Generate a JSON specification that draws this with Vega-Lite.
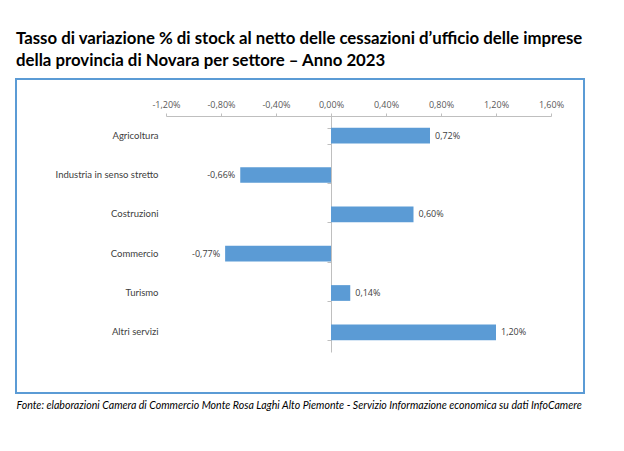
{
  "$schema": "https://vega.github.io/schema/vega-lite/v6.json",
  "width": 568,
  "height": 314,
  "autosize": {"type": "none"},
  "padding": {"left": 16, "top": 79, "right": 40, "bottom": 58},
  "background": "white",
  "title": {
    "text": ["Tasso di variazione % di stock al netto delle cessazioni d’ufficio delle imprese", "della provincia di Novara per settore – Anno 2023"],
    "anchor": "start",
    "frame": "group",
    "font": "Lato",
    "fontSize": 16.8,
    "fontWeight": "bold",
    "color": "#000000",
    "lineHeight": 22,
    "offset": 9
  },
  "data": {
    "values": [
      {"settore": "Agricoltura", "valore": 0.0072},
      {"settore": "Industria in senso stretto", "valore": -0.0066},
      {"settore": "Costruzioni", "valore": 0.006},
      {"settore": "Commercio", "valore": -0.0077},
      {"settore": "Turismo", "valore": 0.0014},
      {"settore": "Altri servizi", "valore": 0.012}
    ]
  },
  "layer": [
    {
      "mark": {"type": "bar", "color": "#5B9BD5"},
      "encoding": {
        "y": {
          "field": "settore", "type": "nominal", "sort": null,
          "scale": {"domain": ["Agricoltura", "Industria in senso stretto", "Costruzioni", "Commercio", "Turismo", "Altri servizi"], "range": [37, 273], "paddingInner": 0.6, "paddingOuter": 0.3},
          "axis": {"orient": "left", "offset": -144, "domain": false, "ticks": false, "labelPadding": 2, "title": null, "labelColor": "#404040", "labelFont": "Lato", "labelFontSize": 9.5}
        },
        "x": {
          "field": "valore", "type": "quantitative",
          "scale": {"domain": [-0.012, 0.016], "range": [150, 535], "nice": false, "zero": false},
          "axis": {"orient": "top", "offset": -37, "values": [-0.012, -0.008, -0.004, 0, 0.004, 0.008, 0.012, 0.016], "format": ".2%", "tickSize": 3, "labelPadding": 4, "labelFlush": false, "labelOverlap": false, "title": null}
        }
      }
    },
    {
      "transform": [{"filter": "datum.valore >= 0"}],
      "mark": {"type": "text", "align": "left", "dx": 5, "font": "Open Sans", "fontSize": 9, "color": "#404040"},
      "encoding": {
        "y": {"field": "settore", "type": "nominal", "sort": null, "axis": null},
        "x": {"field": "valore", "type": "quantitative", "axis": null},
        "text": {"field": "valore", "type": "quantitative", "format": ".2%"}
      }
    },
    {
      "transform": [{"filter": "datum.valore < 0"}],
      "mark": {"type": "text", "align": "right", "dx": -5, "font": "Open Sans", "fontSize": 9, "color": "#404040"},
      "encoding": {
        "y": {"field": "settore", "type": "nominal", "sort": null,
          "axis": {"orient": "left", "offset": -315, "domain": true, "ticks": true, "tickBand": "extent", "tickSize": 4, "labels": false, "title": null}},
        "x": {"field": "valore", "type": "quantitative",
          "axis": {"orient": "bottom", "domain": false, "ticks": false, "labels": false, "title": "Fonte: elaborazioni Camera di Commercio Monte Rosa Laghi Alto Piemonte - Servizio Informazione economica su dati InfoCamere", "titleX": 0, "titleY": 15, "titleAlign": "left", "titleAnchor": null, "titleBaseline": "alphabetic", "titleFont": "Lato", "titleFontStyle": "italic", "titleFontWeight": "normal", "titleFontSize": 10.6, "titleColor": "#000000"}},
        "text": {"field": "valore", "type": "quantitative", "format": ".2%"}
      }
    }
  ],
  "resolve": {"axis": {"x": "independent", "y": "independent"}},
  "config": {
    "view": {"stroke": "#5B9BD5", "strokeWidth": 2},
    "locale": {"number": {"decimal": ",", "thousands": ".", "grouping": [3], "currency": ["", " €"], "minus": "-"}},
    "axis": {"grid": false, "labelFont": "Open Sans", "labelFontSize": 9, "labelColor": "#595959", "domainColor": "#bfbfbf", "tickColor": "#bfbfbf"}
  }
}
